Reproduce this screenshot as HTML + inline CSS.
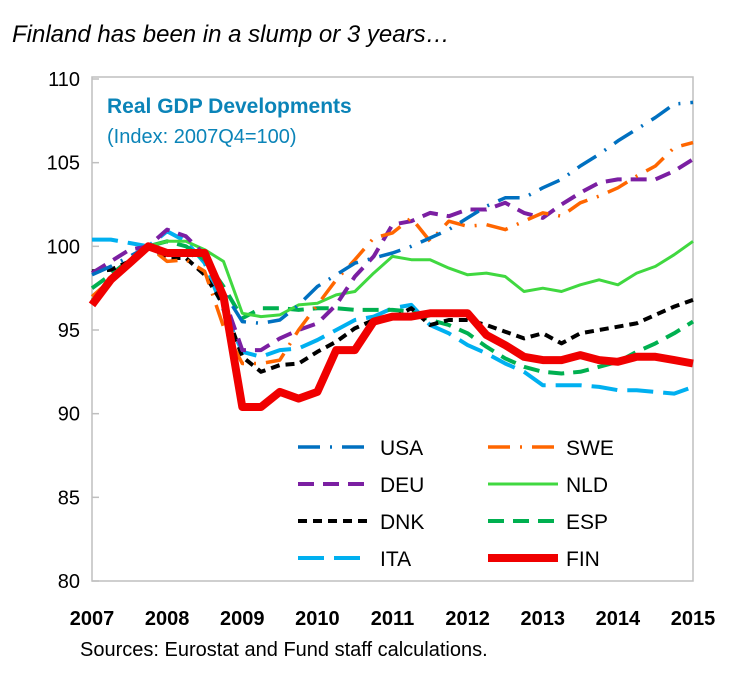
<!DOCTYPE html>
<html><head><meta charset="utf-8"><style>
body{margin:0;background:#fff;width:753px;height:693px;overflow:hidden;font-family:"Liberation Sans",sans-serif}
</style></head><body>
<svg width="753" height="693" xmlns="http://www.w3.org/2000/svg">
<text x="12" y="42" font-size="24" font-style="italic" fill="#000">Finland has been in a slump or 3 years…</text>
<rect x="92" y="77" width="601" height="504" fill="none" stroke="#bfbfbf" stroke-width="1.5"/>
<text x="107" y="113" font-size="21" font-weight="bold" fill="#0b84b8">Real GDP Developments</text>
<text x="107" y="143" font-size="20" fill="#0b84b8">(Index: 2007Q4=100)</text>
<g id="axes"></g>
<g id="series"></g>
<g id="legend"></g>
<text x="80" y="656" font-size="20" fill="#000">Sources: Eurostat and Fund staff calculations.</text>
</svg>
<script>
const years=[2007,2008,2009,2010,2011,2012,2013,2014,2015];
const yTicks=[80,85,90,95,100,105,110];
const seriesNames=["USA","SWE","DEU","NLD","DNK","ESP","ITA","FIN"];
const usa=[98.3,98.8,99.4,100,99.6,99.6,99.2,97.3,95.5,95.4,95.6,96.5,97.6,98.3,99.0,99.3,99.6,100.0,100.5,101.0,101.7,102.4,102.9,102.9,103.5,104.0,104.8,105.5,106.3,107.0,107.7,108.5,108.6];
const swe=[97.0,98.0,99.0,100.0,99.1,99.2,98.5,95.2,93.0,93.0,93.2,95.0,96.5,98.0,99.2,100.5,100.8,101.7,100.3,101.5,101.2,101.3,101.0,101.5,102.0,101.8,102.6,103.0,103.5,104.2,104.8,105.9,106.2];
const deu=[98.4,99.1,99.8,100,101,100.6,99.5,97.0,93.8,93.8,94.5,95.0,95.4,96.5,98.2,99.4,101.3,101.5,102.0,101.8,102.2,102.2,102.6,102.0,101.7,102.5,103.2,103.8,104.0,104.0,104.0,104.5,105.2];
const nld=[96.8,97.8,98.9,100,100.3,100.3,99.8,99.1,96.0,95.8,95.9,96.5,96.6,97.1,97.3,98.4,99.4,99.2,99.2,98.7,98.3,98.4,98.2,97.3,97.5,97.3,97.7,98.0,97.7,98.4,98.8,99.5,100.3];
const dnk=[98.5,98.6,99.1,100,99.3,99.3,98.3,96.5,93.4,92.5,92.9,93.0,93.7,94.3,95.1,95.6,95.7,96.3,95.3,95.6,95.6,95.3,94.9,94.5,94.8,94.2,94.8,95.0,95.2,95.4,95.9,96.4,96.8];
const esp=[97.5,98.3,99.2,100,100.3,100,99.2,97.6,95.7,96.3,96.3,96.2,96.3,96.3,96.2,96.2,96.2,96.1,95.6,95.3,94.8,94.0,93.3,92.8,92.5,92.4,92.5,92.8,93.1,93.7,94.2,94.8,95.5];
const ita=[100.4,100.4,100.2,100,100.9,100.3,99.0,96.2,93.7,93.4,93.8,93.9,94.4,95.0,95.6,95.8,96.3,96.5,95.3,94.8,94.1,93.6,93.0,92.5,91.7,91.7,91.7,91.6,91.4,91.4,91.3,91.2,91.6];
const fin=[96.5,98.0,99.0,100,99.6,99.6,99.6,97.0,90.4,90.4,91.3,90.9,91.3,93.8,93.8,95.5,95.8,95.8,96.0,96.0,96.0,94.7,94.1,93.4,93.2,93.2,93.5,93.2,93.1,93.4,93.4,93.2,93.0];
const NS="http://www.w3.org/2000/svg";
const X0=92,X1=693,Y0=581,Y1=79;
function xs(t){return X0+(t-2007)/8*(X1-X0);}
function ys(v){return Y0-(v-80)/30*(Y0-Y1);}
function mk(tag,attrs,parent){const e=document.createElementNS(NS,tag);for(const k in attrs)e.setAttribute(k,attrs[k]);parent.appendChild(e);return e;}
const axes=document.getElementById('axes');
yTicks.forEach(v=>{
 const l=mk('line',{x1:X0,x2:X0+7,y1:ys(v),y2:ys(v),stroke:'#bfbfbf','stroke-width':1.5},axes);
 
 
 const t=mk('text',{x:X0-12,y:ys(v)+7,'text-anchor':'end','font-size':20},axes);
 t.textContent=v;
 
 
});
years.forEach(yr=>{
 const t=mk('text',{x:xs(yr),y:625,'text-anchor':'middle','font-size':20,'font-weight':'bold'},axes);
 t.textContent=yr;
 
 
});
const styles={
 USA:{c:'#0070c0',w:3.5,d:'22 10 2 10'},
 SWE:{c:'#ff6600',w:3.5,d:'22 10 2 10'},
 DEU:{c:'#7b1fa2',w:4,d:'16 9'},
 NLD:{c:'#40d840',w:3,d:''},
 DNK:{c:'#000',w:4,d:'9 6'},
 ESP:{c:'#00b050',w:4,d:'16 9'},
 ITA:{c:'#00b0f0',w:4,d:'26 10'},
 FIN:{c:'#f00000',w:8,d:''}};
const data={USA:usa,SWE:swe,DEU:deu,NLD:nld,DNK:dnk,ESP:esp,ITA:ita,FIN:fin};
const sg=document.getElementById('series');
["ITA","ESP","DNK","NLD","DEU","SWE","USA","FIN"].forEach(n=>{
 const s=styles[n];
 const pts=data[n].map((v,i)=>xs(2007+i/4).toFixed(1)+','+ys(v).toFixed(1)).join(' ');
 const p=mk('polyline',{points:pts,fill:'none',stroke:s.c,'stroke-width':s.w,'stroke-dasharray':s.d,'stroke-linejoin':'round'},sg);
 
 
});
const lg=document.getElementById('legend');
seriesNames.forEach((n,i)=>{
 const col=i%2,row=Math.floor(i/2);
 const lx=col?488:298,ty=447+row*37;
 const s=styles[n];
 const l=mk('line',{x1:lx,x2:lx+70,y1:ty,y2:ty,stroke:s.c,'stroke-width':s.w,'stroke-dasharray':s.d},lg);
 
 
 const t=mk('text',{x:lx+(col?78:82),y:ty+8,'font-size':21},lg);
 t.textContent=n;
 
 
});
</script>
</body></html>
